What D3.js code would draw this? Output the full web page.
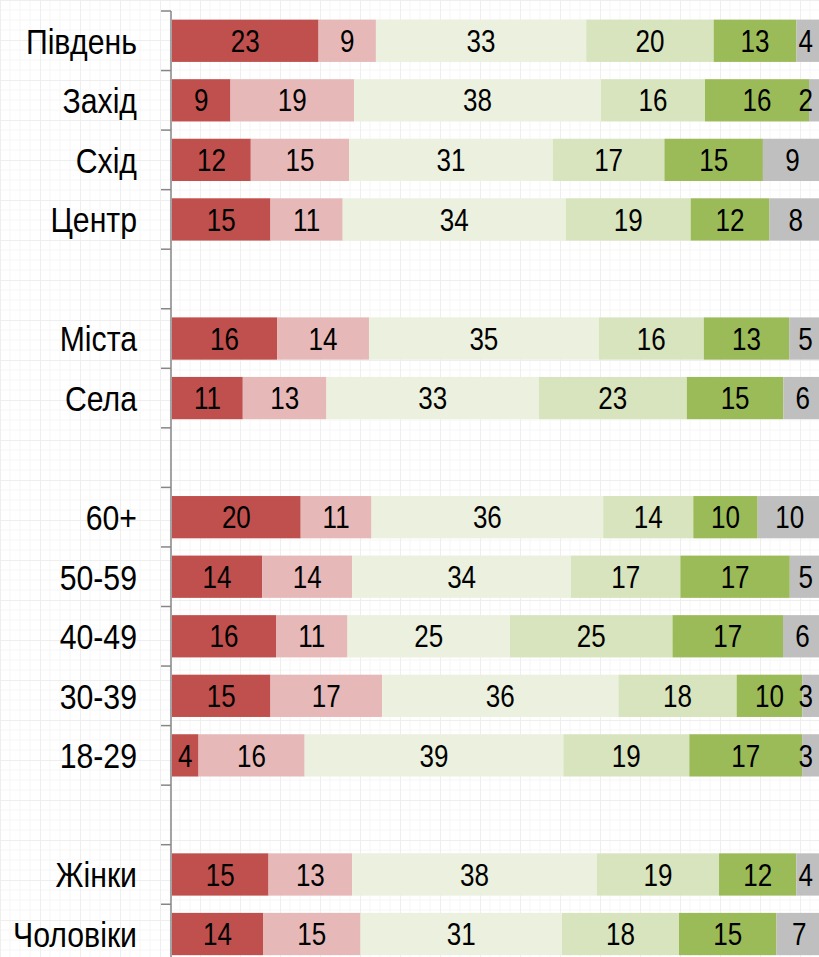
<!DOCTYPE html>
<html>
<head>
<meta charset="utf-8">
<script src="https://cdn.jsdelivr.net/npm/d3@7"></script>
<style>
  body { margin: 0; background: #fff; }
  svg { display: block; }
</style>
</head>
<body>
<script>
const width = 819, height = 957;
const margin = { left: 172, right: -3, top: 11 };

// rows, top to bottom ('' = empty gap row)
const categories = ['Південь', 'Захід', 'Схід', 'Центр', '', 'Міста', 'Села', '', '60+', '50-59', '40-49', '30-39', '18-29', '', 'Жінки', 'Чоловіки'];

// six answer groups, one value per row (null for gaps)
const s1 = [23, 9, 12, 15, null, 16, 11, null, 20, 14, 16, 15, 4, null, 15, 14];
const s2 = [9, 19, 15, 11, null, 14, 13, null, 11, 14, 11, 17, 16, null, 13, 15];
const s3 = [33, 38, 31, 34, null, 35, 33, null, 36, 34, 25, 36, 39, null, 38, 31];
const s4 = [20, 16, 17, 19, null, 16, 23, null, 14, 17, 25, 18, 19, null, 19, 18];
const s5 = [13, 16, 15, 12, null, 13, 15, null, 10, 17, 17, 10, 17, null, 12, 15];
const s6 = [4, 2, 9, 8, null, 5, 6, null, 10, 5, 6, 3, 3, null, 4, 7];

const series = [s1, s2, s3, s4, s5, s6];
const colors = ['#C0504D', '#E6B9B8', '#EBF1DE', '#D7E4BD', '#9BBB59', '#BFBFBF'];

const svg = d3.select('body').append('svg')
    .attr('width', width)
    .attr('height', height);

// faint graph-paper background
const defs = svg.append('defs');
const pat = defs.append('pattern')
    .attr('id', 'grid')
    .attr('width', 40).attr('height', 40)
    .attr('patternUnits', 'userSpaceOnUse');
pat.append('path')
    .attr('d', 'M 10 0 V 40 M 20 0 V 40 M 30 0 V 40 M 0 10 H 40 M 0 20 H 40 M 0 30 H 40')
    .attr('stroke', '#f6f6f6').attr('stroke-width', 1).attr('fill', 'none');
pat.append('path')
    .attr('d', 'M 0.5 0 V 40 M 0 0.5 H 40')
    .attr('stroke', '#eeeeee').attr('stroke-width', 1).attr('fill', 'none');
svg.append('rect').attr('width', width).attr('height', height).attr('fill', 'url(#grid)');

const y = d3.scaleBand()
    .domain(d3.range(categories.length))
    .range([margin.top, margin.top + 59.55 * categories.length])
    .paddingInner(0.29)
    .paddingOuter(0.145);

const x = d3.scaleLinear().domain([0, 100]).range([margin.left, width - margin.right]);

// normalise each row to 100%
const rows = categories.map((c, i) => {
    if (!c) return null;
    const vals = series.map(s => s[i]);
    const total = d3.sum(vals);
    let acc = 0;
    return vals.map((v, k) => {
        const seg = { row: i, k, v, x0: acc / total * 100 };
        acc += v;
        seg.x1 = acc / total * 100;
        return seg;
    });
}).filter(r => r);

const segs = rows.flat();

svg.append('g').selectAll('rect')
    .data(segs)
    .enter().append('rect')
    .attr('x', d => x(d.x0))
    .attr('y', d => y(d.row))
    .attr('width', d => x(d.x1) - x(d.x0))
    .attr('height', y.bandwidth())
    .attr('fill', d => colors[d.k]);

// no narrow face installed: squeeze Liberation Sans horizontally
const font = '"Liberation Sans", Arial, sans-serif';
const squeeze = 0.84;

svg.append('g').selectAll('text')
    .data(segs)
    .enter().append('text')
    .attr('dy', '0.36em')
    .attr('text-anchor', 'middle')
    .style('font-family', font)
    .style('font-size', '31px')
    .attr('fill', '#000')
    .text(d => d.v)
    .each(function (d) {
        const w = this.getComputedTextLength() * squeeze;
        let cx = (x(d.x0) + x(d.x1)) / 2;
        cx = Math.min(cx, 813 - w / 2);
        const cy = y(d.row) + y.bandwidth() / 2;
        d3.select(this).attr('transform', `translate(${cx},${cy}) scale(${squeeze},1)`);
    });

// category axis
const axis = svg.append('g');
const bounds = d3.range(categories.length + 1).map(i => margin.top + i * 59.55);
axis.append('line')
    .attr('x1', 171).attr('x2', 171)
    .attr('y1', margin.top).attr('y2', height + 10)
    .attr('stroke', '#868686').attr('stroke-width', 1.5);
axis.selectAll('.tick')
    .data(bounds)
    .enter().append('line')
    .attr('x1', 161).attr('x2', 171)
    .attr('y1', d => d).attr('y2', d => d)
    .attr('stroke', '#868686').attr('stroke-width', 1.5);
axis.selectAll('.lab')
    .data(categories)
    .enter().append('text')
    .attr('dy', '0.36em')
    .attr('text-anchor', 'end')
    .attr('transform', (d, i) => `translate(137,${y(i) + y.bandwidth() / 2}) scale(${squeeze},1)`)
    .style('font-family', font)
    .style('font-size', '36px')
    .text(d => d);
</script>
</body>
</html>
